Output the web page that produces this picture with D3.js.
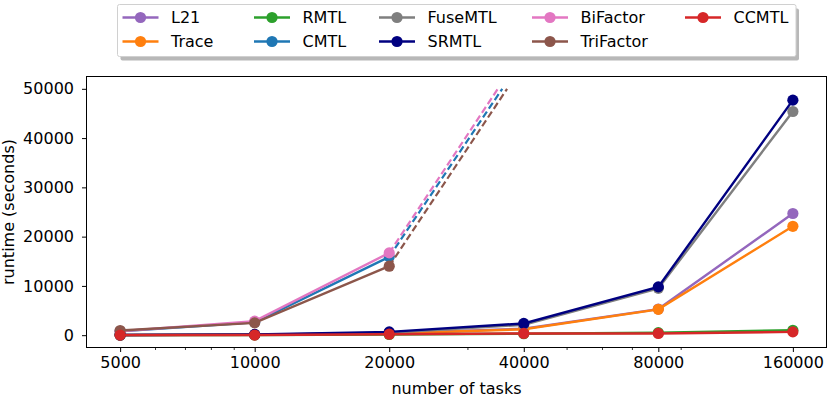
<!DOCTYPE html>
<html>
<head>
<meta charset="utf-8">
<script src="https://cdn.jsdelivr.net/npm/d3@7"></script>
<style>
  body { margin: 0; background: #fff; }
  text { font-family: "DejaVu Sans", sans-serif; fill: #000; }
</style>
</head>
<body>
<script>
// number of tasks (x) and runtimes in seconds for each method
const tasks = [5000, 10000, 20000, 40000, 80000, 160000];
const L21 = [30, 100, 400, 1300, 5300, 24700];
const Trace = [30, 100, 350, 1200, 5250, 22100];
const RMTL = [20, 50, 150, 300, 500, 1000];
const CMTL = [800, 2600, 15900];
const FuseMTL = [40, 120, 500, 2100, 9500, 45400];
const SRMTL = [50, 150, 670, 2380, 9800, 47700];
const BiFactor = [800, 2850, 16700];
const TriFactor = [950, 2500, 14000];
const CCMTL = [10, 30, 200, 350, 350, 670];
// dashed extrapolation: [tasks, runtime] end points from the 20000 point
const CMTLext = [35800, 50000];
const BiFactorExt = [35000, 50000];
const TriFactorExt = [36700, 50000];

const yTicks = [0, 10000, 20000, 30000, 40000, 50000];
const xMinor = [6000, 7000, 8000, 9000, 30000, 50000, 60000, 70000, 90000];

const series = [
  {name: "L21", color: "#9467bd", vals: L21},
  {name: "Trace", color: "#ff7f0e", vals: Trace},
  {name: "RMTL", color: "#2ca02c", vals: RMTL},
  {name: "CMTL", color: "#1f77b4", vals: CMTL, ext: CMTLext},
  {name: "FuseMTL", color: "#7f7f7f", vals: FuseMTL},
  {name: "SRMTL", color: "#000080", vals: SRMTL},
  {name: "BiFactor", color: "#e377c2", vals: BiFactor, ext: BiFactorExt},
  {name: "TriFactor", color: "#8c564b", vals: TriFactor, ext: TriFactorExt},
  {name: "CCMTL", color: "#d62728", vals: CCMTL}
];

var w = 830, h = 402;
var pLeft = 86.5, pRight = 826.5, pTop = 76.5, pBottom = 347.5;
var fs = "16px";

var svg = d3.select("body").append("svg")
  .attr("width", w)
  .attr("height", h);

var x = d3.scaleLog()
  .domain([5000 / Math.pow(2, 0.25), 160000 * Math.pow(2, 0.25)])
  .range([pLeft, pRight]);
var y = d3.scaleLinear()
  .domain([-2500, 52500])
  .range([pBottom, pTop]);

var line = d3.line().x(d => x(d[0])).y(d => y(d[1]));

// lines
series.forEach(function(s) {
  var pts = s.vals.map((v, i) => [tasks[i], v]);
  if (s.ext) {
    svg.append("path")
      .attr("d", line([pts[pts.length - 1], s.ext]))
      .attr("fill", "none")
      .attr("stroke", s.color)
      .attr("stroke-width", 2.2)
      .attr("stroke-dasharray", "7,3.5");
  }
  svg.append("path")
    .attr("d", line(pts))
    .attr("fill", "none")
    .attr("stroke", s.color)
    .attr("stroke-width", 2.4);
  svg.selectAll(null)
    .data(pts)
    .enter()
    .append("circle")
    .attr("cx", d => x(d[0]))
    .attr("cy", d => y(d[1]))
    .attr("r", 5.6)
    .attr("fill", s.color);
});

// axes
var xAxis = d3.axisBottom(x).tickValues(tasks).tickFormat(d3.format("d")).tickSize(4.5).tickPadding(5);
svg.append("g").attr("transform", "translate(0," + pBottom + ")").call(xAxis);
svg.append("g").attr("transform", "translate(0," + pBottom + ")")
  .selectAll("line")
  .data(xMinor)
  .enter()
  .append("line")
  .attr("x1", d => x(d)).attr("x2", d => x(d))
  .attr("y1", 0).attr("y2", 2.5)
  .attr("stroke", "#000").attr("stroke-width", 0.8);

var yAxis = d3.axisLeft(y).tickValues(yTicks).tickFormat(d3.format("d")).tickSize(4.5).tickPadding(8);
svg.append("g").attr("transform", "translate(" + pLeft + ",0)").call(yAxis);

svg.selectAll(".domain").remove();
svg.selectAll(".tick line").attr("stroke", "#000").attr("stroke-width", 1);
svg.selectAll(".tick text").style("font-size", fs).style("font-family", "DejaVu Sans").attr("fill", "#000");

svg.append("rect")
  .attr("x", pLeft).attr("y", pTop)
  .attr("width", pRight - pLeft).attr("height", pBottom - pTop)
  .attr("fill", "none").attr("stroke", "#000").attr("stroke-width", 1);

svg.append("text")
  .attr("x", (pLeft + pRight) / 2).attr("y", 394)
  .attr("text-anchor", "middle")
  .style("font-size", fs)
  .text("number of tasks");
svg.append("text")
  .attr("transform", "translate(14," + ((pTop + pBottom) / 2) + ") rotate(-90)")
  .attr("text-anchor", "middle")
  .style("font-size", fs)
  .text("runtime (seconds)");

// legend
var lx = 117.5, ly = 4.5, lw = 678.5, lh = 52;
svg.append("rect")
  .attr("x", lx + 3).attr("y", ly + 4).attr("width", lw).attr("height", lh)
  .attr("rx", 2).attr("fill", "#888").attr("opacity", 0.6);
svg.append("rect")
  .attr("x", lx).attr("y", ly).attr("width", lw).attr("height", lh)
  .attr("rx", 2).attr("fill", "#fff").attr("stroke", "#d0d0d0").attr("stroke-width", 1);

var colX = [122.5, 254, 379, 532, 685];
var rowY = [17.5, 41.5];
var leg = svg.selectAll("g.leg")
  .data(series)
  .enter()
  .append("g")
  .attr("class", "leg")
  .attr("transform", (d, i) => "translate(" + colX[Math.floor(i / 2)] + "," + rowY[i % 2] + ")");
leg.append("line")
  .attr("x1", 0).attr("x2", 36)
  .attr("stroke", d => d.color).attr("stroke-width", 2.4);
leg.append("circle")
  .attr("cx", 18).attr("r", 5.6)
  .attr("fill", d => d.color);
leg.append("text")
  .attr("x", 48.5).attr("dy", "0.36em")
  .style("font-size", fs)
  .text(d => d.name);
</script>
</body>
</html>
